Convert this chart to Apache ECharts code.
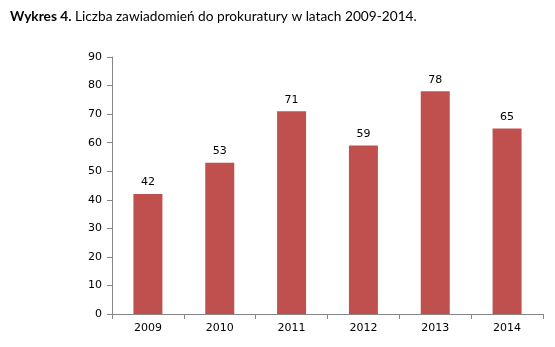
<!DOCTYPE html>
<html><head><meta charset="utf-8">
<script src="https://cdn.jsdelivr.net/npm/echarts@6/dist/echarts.min.js"></script>
<style>html,body{margin:0;padding:0;background:#fff;}#c{width:555px;height:347px;}</style>
</head><body><div id="c"></div>
<script>
const categories = ['2009','2010','2011','2012','2013','2014'];
const values = [42, 53, 71, 59, 78, 65];
const yTicks = [0,10,20,30,40,50,60,70,80,90];

const chart = echarts.init(document.getElementById('c'));
chart.setOption({
  animation: false,
  title: {
    left: 5, top: 5,
    text: '{b|Wykres 4.} Liczba zawiadomień do prokuratury w latach 2009-2014.',
    textStyle: {
      fontFamily: 'Lato', fontSize: 13.7, fontWeight: 'normal', color: '#000',
      rich: { b: { fontFamily: 'Lato', fontSize: 13.7, fontWeight: 'bold', color: '#000' } }
    }
  },
  grid: { left: 112, right: 12, top: 57, bottom: 33 },
  xAxis: {
    type: 'category', data: categories,
    axisLine: { lineStyle: { color: '#868686' } },
    axisTick: { show: true, length: 5, alignWithLabel: false, lineStyle: { color: '#868686' } },
    axisLabel: { color: '#000', fontFamily: 'DejaVu Sans', fontSize: 11, margin: 9 }
  },
  yAxis: {
    type: 'value', min: yTicks[0], max: yTicks[yTicks.length-1], interval: 10,
    axisLine: { show: true, lineStyle: { color: '#868686' } },
    axisTick: { show: true, length: 5, lineStyle: { color: '#868686' } },
    splitLine: { show: false },
    axisLabel: { color: '#000', fontFamily: 'DejaVu Sans', fontSize: 11, margin: 10 }
  },
  series: [{
    type: 'bar', data: values, barWidth: 29,
    itemStyle: { color: '#C0504D' },
    label: { show: true, position: 'top', distance: 6, color: '#000', fontFamily: 'DejaVu Sans', fontSize: 11 }
  }]
});
</script></body></html>
